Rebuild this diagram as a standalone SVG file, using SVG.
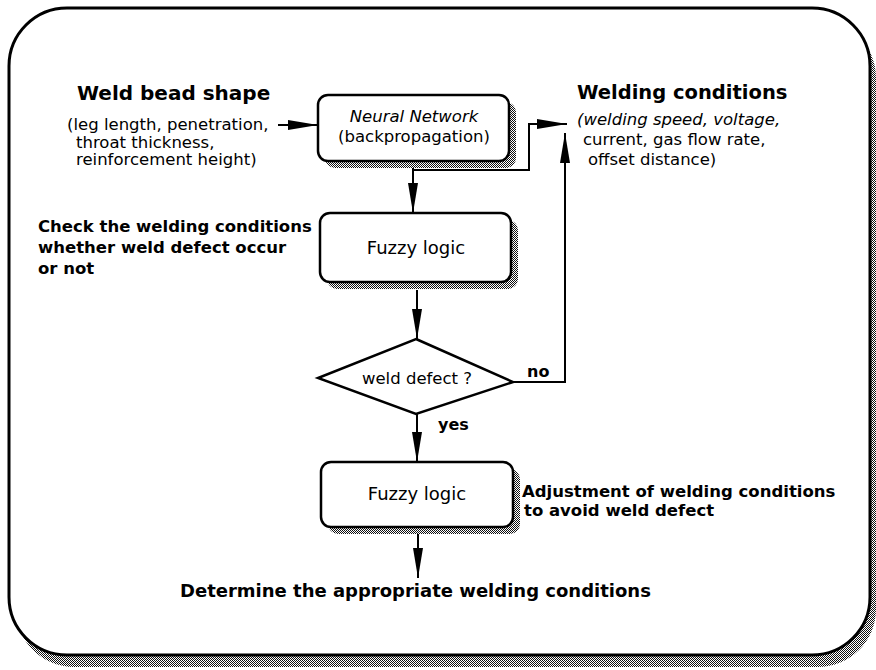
<svg xmlns="http://www.w3.org/2000/svg" width="876" height="670" viewBox="0 0 876 670">
<style>
text{font-family:"DejaVu Sans","Liberation Sans",sans-serif;fill:#000}
.t{font-size:16.5px}
.b{font-weight:bold}
.i{font-style:italic}
.m{text-anchor:middle}
.box{fill:#fff;stroke:#000;stroke-width:2.5}
.sh{fill:url(#hatch);stroke:none}
.ln{fill:none;stroke:#000;stroke-width:2}
</style>
<defs>
<pattern id="hatch" width="2" height="2" patternUnits="userSpaceOnUse">
<rect width="2" height="2" fill="#fff"/>
<rect x="0" y="0" width="1" height="1" fill="#111"/>
<rect x="1" y="1" width="1" height="1" fill="#111"/>
</pattern>
<marker id="arr" markerUnits="userSpaceOnUse" markerWidth="30" markerHeight="10" refX="30" refY="5" orient="auto">
<path d="M0,0 L30,5 L0,10 Z" fill="#000"/>
</marker>
</defs>

<g id="frame">
<rect x="16" y="20" width="860" height="647" rx="58" class="sh"/>
<rect x="9" y="8" width="861" height="647" rx="58" fill="#fff" stroke="#000" stroke-width="3"/>
</g>

<g id="weld-bead-shape">
<text x="77" y="100" class="b" font-size="20">Weld bead shape</text>
<text x="67" y="130" class="t">(leg length, penetration,</text>
<text x="76" y="147.5" class="t">throat thickness,</text>
<text x="76" y="165" class="t">reinforcement height)</text>
</g>

<g id="neural-network">
<rect x="325" y="102" width="191" height="66" rx="10" class="sh"/>
<rect x="318" y="95" width="191" height="66" rx="10" class="box"/>
<text x="414" y="122" class="t i m">Neural Network</text>
<text x="414" y="142" class="t m">(backpropagation)</text>
</g>

<g id="welding-conditions">
<text x="577" y="99" class="b" font-size="19.5">Welding conditions</text>
<text x="577" y="125" class="t i">(welding speed, voltage,</text>
<text x="583" y="145" class="t">current, gas flow rate,</text>
<text x="588" y="165" class="t">offset distance)</text>
</g>

<g id="check-label">
<text x="38" y="232" class="b" font-size="16.5">Check the welding conditions</text>
<text x="38" y="253" class="b" font-size="16.5">whether weld defect occur</text>
<text x="38" y="274" class="b" font-size="16.5">or not</text>
</g>

<g id="fuzzy-logic-1">
<rect x="327" y="220" width="191" height="69" rx="10" class="sh"/>
<rect x="320" y="213" width="191" height="69" rx="10" class="box"/>
<text x="416" y="254" class="m" font-size="18">Fuzzy logic</text>
</g>

<g id="weld-defect">
<polygon points="416,339 513,382 416,414 318,378" fill="#fff" stroke="#000" stroke-width="2.5"/>
<text x="417" y="384" class="t m">weld defect ?</text>
</g>

<g id="fuzzy-logic-2">
<rect x="328" y="469" width="192" height="65" rx="10" class="sh"/>
<rect x="321" y="462" width="192" height="65" rx="10" class="box"/>
<text x="417" y="500" class="m" font-size="18">Fuzzy logic</text>
</g>

<g id="adjust-label">
<text x="522" y="497" class="b" font-size="16.5">Adjustment of welding conditions</text>
<text x="524" y="516" class="b" font-size="16.5">to avoid weld defect</text>
</g>

<g id="result">
<text x="180" y="597" class="b" font-size="18">Determine the appropriate welding conditions</text>
</g>

<g id="connectors">
<line x1="278" y1="125" x2="318" y2="125" class="ln" marker-end="url(#arr)"/>
<line x1="413" y1="168" x2="413" y2="213" class="ln" marker-end="url(#arr)"/>
<path d="M413,170 H529 V124 H567" class="ln" marker-end="url(#arr)"/>
<path d="M513,382 H565 V133" class="ln" marker-end="url(#arr)"/>
<line x1="417" y1="290" x2="417" y2="339" class="ln" marker-end="url(#arr)"/>
<line x1="417" y1="414" x2="417" y2="462" class="ln" marker-end="url(#arr)"/>
<line x1="418" y1="534" x2="418" y2="578" class="ln" marker-end="url(#arr)"/>
<text x="527" y="377" class="b" font-size="16">no</text>
<text x="438" y="430" class="b" font-size="16">yes</text>
</g>
</svg>
